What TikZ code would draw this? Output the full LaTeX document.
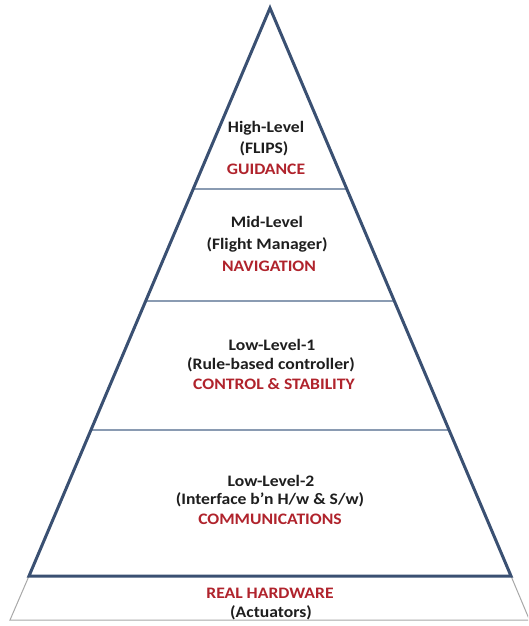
\documentclass[tikz,border=0pt]{standalone}
\usepackage{fontspec}
\setmainfont{Carlito}
\definecolor{outline}{HTML}{3A5072}
\definecolor{divider}{HTML}{8A9BB2}
\definecolor{basegray}{HTML}{A8A8A8}
\definecolor{redtxt}{HTML}{B0232C}
\definecolor{blktxt}{HTML}{1E1E1E}
\newcommand{\hstretch}[1]{\scalebox{1.1}[1]{#1}}
\tikzset{
  lbl/.style={font=\fontsize{16}{19}\selectfont\bfseries, text=blktxt, inner sep=0pt, anchor=center},
  rlbl/.style={lbl, text=redtxt},
  outer/.style={draw=outline, line width=3pt, line join=miter},
  divline/.style={draw=divider, line width=1.4pt},
  baseline/.style={draw=basegray, line width=1pt}
}
\begin{document}
\begin{tikzpicture}[x=1pt,y=-1pt]
\useasboundingbox (0,0) rectangle (528,626);
\fill[white] (0,0) rectangle (528,626);
% coordinates
\coordinate (apex) at (270,8);
\coordinate (bl) at (29,576);
\coordinate (br) at (511,576);
\coordinate (fl) at (10,620);
\coordinate (fr) at (529.5,620);
% bottom trapezoid
\begin{scope}
\clip (0,0) rectangle (528,626);
\draw[baseline] (bl) -- (fl) -- (fr) -- (br);
\end{scope}
% dividers
\coordinate (d1l) at (193.8,189);
\coordinate (d1r) at (346.2,189);
\coordinate (d2l) at (146.3,301);
\coordinate (d2r) at (393.7,301);
\coordinate (d3l) at (91.6,430);
\coordinate (d3r) at (448.4,430);
\draw[divline] (d1l) -- (d1r);
\draw[divline] (d2l) -- (d2r);
\draw[divline] (d3l) -- (d3r);
% outline triangle
\draw[outer] (apex) -- (br) -- (bl) -- cycle;
% texts
\node[lbl] (hl) at (266,128) {\hstretch{High-Level}};
\node[lbl] (flips) at (264,149) {\hstretch{(FLIPS)}};
\node[rlbl] (guid) at (266,169) {\hstretch{GUIDANCE}};
\node[lbl] (ml) at (267,222) {\hstretch{Mid-Level}};
\node[lbl] (fm) at (267,245) {\hstretch{(Flight Manager)}};
\node[rlbl] (nav) at (269,266) {\hstretch{NAVIGATION}};
\node[lbl] (ll1) at (272,345) {\hstretch{Low-Level-1}};
\node[lbl] (rbc) at (271,365) {\hstretch{(Rule-based controller)}};
\node[rlbl] (cs) at (274,384) {\hstretch{CONTROL \& STABILITY}};
\node[lbl] (ll2) at (271,481) {\hstretch{Low-Level-2}};
\node[lbl] (ifc) at (270,500) {\hstretch{(Interface b’n H/w \& S/w)}};
\node[rlbl] (comm) at (270,519) {\hstretch{COMMUNICATIONS}};
\node[rlbl] (rh) at (270,593) {\hstretch{REAL HARDWARE}};
\node[lbl] (act) at (271,613) {\hstretch{(Actuators)}};
\end{tikzpicture}
\end{document}
